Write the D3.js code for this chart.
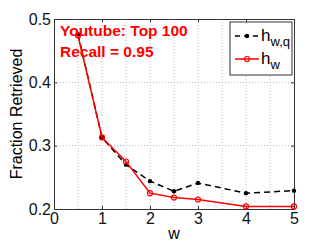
<!DOCTYPE html>
<html lang="en">
<head>
<meta charset="UTF-8">
<title>Fraction Retrieved</title>
<script src="https://d3js.org/d3.v7.min.js"></script>
<style>
  body { margin: 0; background: #fff; }
  text { font-family: "Liberation Sans", Arial, sans-serif; }
</style>
</head>
<body>
<svg width="325" height="245"></svg>
<script>
const width = 325, height = 245;
const margin = { top: 19, right: 31, bottom: 36, left: 54 };

// data
const wValues = [0.5, 1, 1.5, 2, 2.5, 3, 4, 5];
const hwq = [0.476, 0.313, 0.270, 0.244, 0.228, 0.241, 0.225, 0.229];
const hw  = [0.474, 0.313, 0.275, 0.225, 0.218, 0.215, 0.204, 0.204];
const xTicks = [0, 1, 2, 3, 4, 5];
const xGrid = [0.5, 1, 1.5, 2, 2.5, 3, 3.5, 4, 4.5];
const yTicks = [0.2, 0.3, 0.4, 0.5];

const svg = d3.select("svg");

const x = d3.scaleLinear().domain([0, 5]).range([margin.left, width - margin.right]);
const y = d3.scaleLinear().domain([0.2, 0.5]).range([height - margin.bottom, margin.top]);

// grid
svg.append("g").selectAll("line").data(xGrid).enter().append("line")
   .attr("x1", d => x(d)).attr("x2", d => x(d))
   .attr("y1", y(0.2)).attr("y2", y(0.5))
   .attr("stroke", "#bbb").attr("stroke-dasharray", "1,2");
svg.append("g").selectAll("line").data([0.3, 0.4]).enter().append("line")
   .attr("x1", x(0)).attr("x2", x(5))
   .attr("y1", d => y(d)).attr("y2", d => y(d))
   .attr("stroke", "#bbb").attr("stroke-dasharray", "1,2");

// axes
const axisColor = "#333";
svg.append("g")
   .attr("transform", `translate(0,${y(0.2)})`)
   .call(d3.axisBottom(x).tickValues(xTicks).tickFormat(d3.format("d")).tickSize(-3).tickPadding(4))
   .call(g => g.selectAll("text").style("font-size", "16px").attr("fill", "#111"))
   .call(g => g.selectAll("line, path").attr("stroke", axisColor));
svg.append("g")
   .attr("transform", `translate(${x(0)},0)`)
   .call(d3.axisLeft(y).tickValues(yTicks).tickFormat(d3.format(".1f")).tickSize(-3).tickPadding(3))
   .call(g => g.selectAll("text").style("font-size", "16px").attr("fill", "#111"))
   .call(g => g.selectAll("line, path").attr("stroke", axisColor));
svg.append("g")
   .attr("transform", `translate(0,${y(0.5)})`)
   .call(d3.axisTop(x).tickValues(xTicks).tickFormat("").tickSize(-3))
   .call(g => g.selectAll("line, path").attr("stroke", axisColor));
svg.append("g")
   .attr("transform", `translate(${x(5)},0)`)
   .call(d3.axisRight(y).tickValues(yTicks).tickFormat("").tickSize(-3))
   .call(g => g.selectAll("line, path").attr("stroke", axisColor));

// lines
const pts = vals => wValues.map((w, i) => [w, vals[i]]);
const line = d3.line().x(d => x(d[0])).y(d => y(d[1]));

svg.append("path").datum(pts(hwq))
   .attr("fill", "none").attr("stroke", "#000").attr("stroke-width", 1.5)
   .attr("stroke-dasharray", "6,4").attr("d", line);
svg.append("g").selectAll("circle").data(pts(hwq)).enter().append("circle")
   .attr("cx", d => x(d[0])).attr("cy", d => y(d[1])).attr("r", 2.2).attr("fill", "#000");

svg.append("path").datum(pts(hw))
   .attr("fill", "none").attr("stroke", "#f00").attr("stroke-width", 1.5).attr("d", line);
svg.append("g").selectAll("circle").data(pts(hw)).enter().append("circle")
   .attr("cx", d => x(d[0])).attr("cy", d => y(d[1])).attr("r", 2.5)
   .attr("fill", "none").attr("stroke", "#f00").attr("stroke-width", 1.2);

// annotation
svg.append("text").attr("x", 60).attr("y", 36)
   .attr("fill", "#f00").style("font-size", "15.5px").style("font-weight", "bold")
   .text("Youtube: Top 100");
svg.append("text").attr("x", 60).attr("y", 57)
   .attr("fill", "#f00").style("font-size", "15.5px").style("font-weight", "bold")
   .text("Recall = 0.95");

// legend
const legend = svg.append("g").attr("transform", "translate(230,22)");
legend.append("rect").attr("width", 62).attr("height", 53)
      .attr("fill", "#fff").attr("stroke", "#333");
legend.append("line").attr("x1", 5).attr("x2", 29).attr("y1", 14).attr("y2", 14)
      .attr("stroke", "#000").attr("stroke-width", 1.5).attr("stroke-dasharray", "5,4");
legend.append("circle").attr("cx", 17).attr("cy", 14).attr("r", 2.2).attr("fill", "#000");
const t1 = legend.append("text").attr("x", 31).attr("y", 19).style("font-size", "17px");
t1.append("tspan").text("h");
t1.append("tspan").attr("dy", 5).style("font-size", "13px").text("w,q");
legend.append("line").attr("x1", 5).attr("x2", 29).attr("y1", 37).attr("y2", 37)
      .attr("stroke", "#f00").attr("stroke-width", 1.5);
legend.append("circle").attr("cx", 17).attr("cy", 37).attr("r", 2.5)
      .attr("fill", "none").attr("stroke", "#f00").attr("stroke-width", 1.2);
const t2 = legend.append("text").attr("x", 31).attr("y", 42).style("font-size", "17px");
t2.append("tspan").text("h");
t2.append("tspan").attr("dy", 5).style("font-size", "13px").text("w");

// axis labels
svg.append("text").attr("x", x(2.5)).attr("y", 239)
   .attr("text-anchor", "middle").style("font-size", "16px").text("w");
svg.append("text").attr("transform", "rotate(-90)")
   .attr("x", -(y(0.35))).attr("y", 22)
   .attr("text-anchor", "middle").style("font-size", "16px").text("Fraction Retrieved");
</script>
</body>
</html>
